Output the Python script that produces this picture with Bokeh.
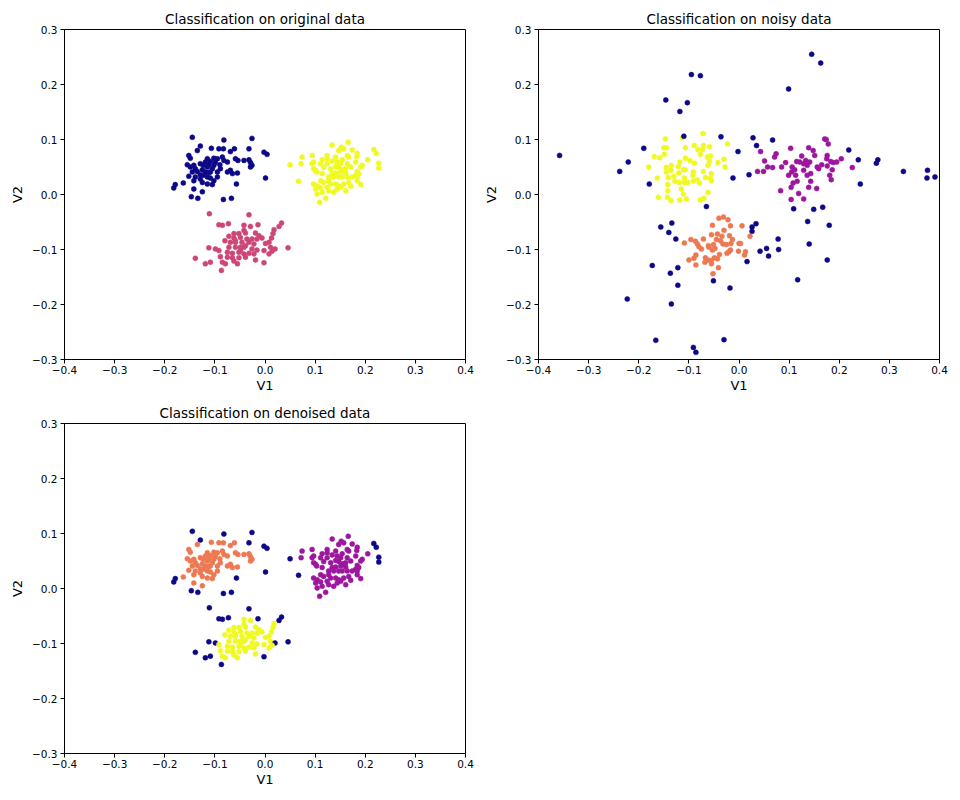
from bokeh.plotting import figure
from bokeh.layouts import column, row
from bokeh.models import FixedTicker, CustomJSTickFormatter, ColumnDataSource
from bokeh.embed import file_html
from bokeh.resources import INLINE

# ---------------- original / denoised data (same points) ----------------
# cluster A (upper left)
a_x = [-0.145,-0.082,-0.026,-0.129,-0.135,-0.107,-0.092,-0.083,-0.069,-0.061,
       -0.032,-0.002,0.004,-0.152,-0.149,-0.115,-0.102,-0.085,-0.082,-0.075,
       -0.059,-0.054,-0.042,-0.032,-0.029,-0.155,-0.142,-0.129,-0.119,-0.109,
       -0.099,-0.139,-0.125,-0.115,-0.105,-0.089,-0.145,-0.135,-0.119,-0.109,
       -0.095,-0.075,-0.069,-0.065,-0.055,-0.026,-0.029,-0.152,-0.139,-0.129,
       -0.115,-0.109,-0.095,-0.142,-0.125,-0.115,-0.105,-0.179,-0.182,-0.163,
       -0.142,-0.125,-0.147,-0.134,-0.083,-0.067,-0.057,0.001,-0.129,-0.122,
       -0.112,-0.102,-0.123,-0.095,-0.090,-0.112,-0.102,-0.149]
a_y = [0.104,0.099,0.102,0.088,0.080,0.084,0.083,0.083,0.078,0.083,
       0.083,0.077,0.073,0.071,0.066,0.065,0.066,0.068,0.062,0.059,
       0.065,0.062,0.062,0.063,0.058,0.054,0.053,0.056,0.059,0.060,
       0.058,0.047,0.045,0.050,0.047,0.047,0.041,0.042,0.041,0.041,
       0.041,0.041,0.044,0.038,0.039,0.053,0.050,0.033,0.032,0.028,
       0.032,0.030,0.032,0.025,0.022,0.019,0.018,0.018,0.012,0.021,
       0.010,0.005,-0.004,-0.007,-0.009,-0.007,0.019,0.030,0.036,0.035,
       0.054,0.053,0.053,0.065,0.054,0.040,0.025,0.050]
a_den = [-1,-1,-1,-1,1,1,1,1,1,1,
         -1,-1,-1,1,1,1,1,1,1,1,
         1,1,1,1,1,1,1,1,1,1,
         1,1,1,1,1,1,1,1,1,1,
         1,1,1,1,1,1,1,1,1,1,
         1,1,1,1,1,1,1,-1,-1,1,
         1,1,-1,-1,-1,-1,-1,-1,1,1,
         1,1,1,1,1,1,1,1]

# cluster B (right)
b_x = [0.134,0.166,0.152,0.147,0.157,0.174,0.217,0.222,0.184,0.183,
       0.074,0.094,0.124,0.141,0.164,0.167,0.050,0.072,0.094,0.097,
       0.114,0.124,0.134,0.144,0.154,0.164,0.181,0.194,0.205,0.227,
       0.227,0.111,0.124,0.117,0.131,0.141,0.147,0.154,0.161,0.191,
       0.101,0.103,0.114,0.134,0.141,0.151,0.157,0.184,0.187,0.181,
       0.127,0.137,0.147,0.154,0.164,0.174,0.184,0.067,0.097,0.104,
       0.111,0.117,0.127,0.131,0.141,0.147,0.157,0.167,0.191,0.184,
       0.101,0.111,0.124,0.144,0.151,0.171,0.114,0.127,0.137,0.161,
       0.104,0.121,0.109,0.097,0.151,0.161,0.171]
b_y = [0.090,0.095,0.086,0.080,0.083,0.081,0.082,0.075,0.075,0.069,
       0.068,0.071,0.071,0.068,0.071,0.068,0.054,0.056,0.056,0.059,
       0.063,0.065,0.061,0.059,0.063,0.056,0.059,0.053,0.063,0.057,
       0.048,0.056,0.056,0.049,0.047,0.051,0.049,0.045,0.047,0.050,
       0.044,0.041,0.038,0.038,0.039,0.041,0.044,0.042,0.038,0.035,
       0.032,0.032,0.032,0.032,0.032,0.032,0.032,0.024,0.019,0.016,
       0.025,0.022,0.025,0.019,0.019,0.016,0.019,0.022,0.018,0.025,
       0.010,0.012,0.013,0.010,0.013,0.015,0.004,0.007,0.004,0.007,
       0.001,-0.007,-0.014,0.047,0.056,0.039,0.050]
b_den = [0,0,0,0,0,0,-1,-1,0,0,
         0,0,0,0,0,0,-1,0,0,0,
         0,0,0,0,0,0,0,0,0,-1,
         -1,0,0,0,0,0,0,0,0,0,
         0,0,0,0,0,0,0,0,0,0,
         0,0,0,0,0,0,0,-1,0,0,
         0,0,0,0,0,0,0,0,0,0,
         0,0,0,0,0,0,0,0,0,0,
         0,0,0,0,0,0,0]

# cluster C (lower)
c_x = [-0.111,-0.032,-0.092,-0.085,-0.073,-0.042,-0.029,-0.014,0.033,0.028,
       0.018,-0.042,-0.052,-0.039,-0.019,-0.012,-0.072,-0.062,-0.049,-0.036,
       -0.016,-0.006,0.016,0.013,-0.080,-0.069,-0.059,-0.046,-0.032,-0.022,
       0.001,0.008,-0.112,-0.099,-0.092,-0.072,-0.059,-0.049,-0.039,-0.026,
       -0.016,-0.002,0.011,0.020,0.046,0.014,-0.075,-0.065,-0.052,-0.042,
       -0.032,-0.022,0.008,-0.089,-0.075,-0.065,-0.052,-0.039,-0.019,-0.139,
       -0.119,-0.109,-0.085,-0.079,-0.062,-0.055,-0.002,-0.087,-0.059,-0.049,
       -0.026,-0.062,-0.042]
c_y = [-0.035,-0.037,-0.055,-0.056,-0.053,-0.056,-0.058,-0.055,-0.052,-0.058,
       -0.064,-0.065,-0.071,-0.070,-0.070,-0.075,-0.076,-0.079,-0.078,-0.081,
       -0.081,-0.079,-0.071,-0.079,-0.084,-0.087,-0.087,-0.087,-0.087,-0.090,
       -0.089,-0.087,-0.097,-0.099,-0.102,-0.096,-0.096,-0.096,-0.093,-0.099,
       -0.101,-0.102,-0.096,-0.099,-0.097,-0.103,-0.105,-0.107,-0.105,-0.108,
       -0.107,-0.108,-0.108,-0.113,-0.114,-0.115,-0.115,-0.114,-0.119,-0.116,
       -0.126,-0.123,-0.123,-0.126,-0.121,-0.126,-0.124,-0.138,-0.084,-0.102,
       -0.081,-0.071,-0.096]
c_den = [-1,-1,-1,-1,-1,2,2,-1,-1,-1,
         2,2,2,2,2,2,2,2,2,2,
         2,2,2,2,2,2,2,2,2,2,
         2,2,-1,-1,2,2,2,2,2,2,
         2,2,2,-1,-1,2,2,2,2,2,
         2,2,2,2,2,2,2,2,2,-1,
         -1,-1,2,2,2,2,-1,-1,2,2,
         2,2,2]

# ---------------- noisy data ----------------
nz_x = [-0.095,-0.077,-0.146,-0.103,-0.118,-0.110,-0.036,-0.002,-0.190,-0.358,-0.221,-0.238,-0.012,
        0.145,0.163,0.099,0.028,0.067,0.035,0.219,0.238,0.277,0.274,0.020,0.328,0.376,0.391,0.375,
        0.242,0.109,0.149,0.167,
        -0.179,-0.065,-0.134,-0.156,-0.140,-0.126,-0.173,-0.122,-0.137,-0.122,-0.051,-0.018,-0.223,-0.135,-0.166,-0.030,-0.091,-0.086,
        0.137,0.180,0.034,0.026,0.026,0.078,0.140,0.055,0.079,0.042,0.059,0.016,0.176,0.117]
nz_y = [0.218,0.216,0.172,0.167,0.151,0.106,0.105,0.078,0.084,0.071,0.059,0.042,0.030,
        0.255,0.239,0.192,0.103,0.099,0.089,0.081,0.063,0.063,0.057,0.036,0.042,0.044,0.032,0.030,
        0.019,-0.026,-0.027,-0.023,
        0.019,-0.022,-0.052,-0.059,-0.069,-0.081,-0.129,-0.133,-0.143,-0.165,-0.157,-0.170,-0.190,-0.199,-0.265,-0.264,-0.278,-0.287,
        -0.049,-0.056,-0.053,-0.059,-0.067,-0.081,-0.090,-0.098,-0.100,-0.103,-0.112,-0.122,-0.119,-0.155]

ty_x = [-0.072,-0.147,-0.113,-0.150,-0.145,-0.107,-0.089,-0.071,-0.059,-0.082,
        -0.073,-0.023,-0.169,-0.158,-0.149,-0.107,-0.098,-0.089,-0.077,-0.063,
        -0.057,-0.059,-0.030,-0.042,-0.180,-0.145,-0.135,-0.121,-0.118,-0.111,
        -0.107,-0.091,-0.071,-0.062,-0.028,-0.145,-0.136,-0.120,-0.163,-0.141,
        -0.130,-0.109,-0.092,-0.067,-0.055,-0.057,
        -0.142,-0.142,-0.143,-0.161,-0.136,-0.119,-0.115,-0.111,-0.105,-0.118,
        -0.109,-0.102,-0.091,-0.079,-0.062,-0.070,-0.077,-0.055,-0.128,-0.083]
ty_y = [0.111,0.101,0.103,0.085,0.085,0.085,0.089,0.089,0.087,0.082,
        0.082,0.092,0.069,0.067,0.073,0.066,0.062,0.057,0.073,0.068,
        0.070,0.061,0.064,0.058,0.050,0.049,0.053,0.051,0.059,0.045,
        0.045,0.041,0.042,0.053,0.050,0.041,0.044,0.039,0.030,0.031,
        0.033,0.030,0.035,0.031,0.038,0.030,
        0.018,0.007,-0.005,-0.005,-0.011,0.022,0.010,0.001,-0.008,-0.010,
        0.022,0.022,0.025,0.021,0.004,-0.007,-0.010,0.025,0.024,0.027]

bo_x = [-0.040,-0.031,-0.022,-0.053,-0.017,-0.043,-0.030,-0.055,-0.034,-0.019,
        -0.013,-0.109,-0.096,-0.087,-0.083,-0.071,-0.080,-0.075,-0.061,-0.051,
        -0.045,-0.037,-0.032,-0.025,-0.016,0.000,-0.048,-0.053,-0.060,-0.017,
        -0.001,-0.086,-0.090,-0.100,-0.067,-0.068,-0.062,-0.055,-0.049,-0.043,
        -0.039,-0.055,-0.086,-0.041,-0.052,-0.024,-0.020,
        0.006,0.022,0.003,0.013,0.011]
bo_y = [-0.043,-0.041,-0.046,-0.056,-0.057,-0.072,-0.065,-0.073,-0.076,-0.075,
        -0.082,-0.088,-0.082,-0.085,-0.090,-0.081,-0.095,-0.099,-0.093,-0.091,
        -0.082,-0.084,-0.090,-0.091,-0.089,-0.089,-0.098,-0.101,-0.096,-0.101,
        -0.103,-0.110,-0.116,-0.119,-0.115,-0.123,-0.119,-0.120,-0.115,-0.117,
        -0.109,-0.126,-0.128,-0.133,-0.144,-0.107,-0.104,
        -0.057,-0.076,-0.089,-0.104,-0.110]

rp_x = [0.043,0.074,0.071,0.051,0.057,0.067,0.049,0.085,0.093,0.103,
        0.139,0.148,0.151,0.171,0.174,0.178,0.125,0.115,0.121,0.133,
        0.141,0.136,0.129,0.106,0.111,0.105,0.099,0.113,0.129,0.136,
        0.143,0.156,0.159,0.165,0.176,0.175,0.183,0.188,0.195,0.204,
        0.176,0.186,0.226,0.181,0.184,0.143,0.116,0.108,0.104,0.139,
        0.155,0.083,0.119,0.129,0.104,0.037]
rp_y = [0.078,0.074,0.068,0.061,0.050,0.049,0.042,0.050,0.058,0.084,
        0.085,0.080,0.071,0.101,0.100,0.092,0.070,0.060,0.059,0.062,
        0.059,0.053,0.056,0.050,0.045,0.041,0.035,0.035,0.044,0.035,
        0.038,0.050,0.047,0.054,0.071,0.065,0.060,0.058,0.059,0.065,
        0.052,0.045,0.049,0.035,0.027,0.024,0.024,0.021,0.013,0.013,
        0.011,0.007,0.002,-0.008,-0.009,0.042]

x_ticks = [-0.4, -0.3, -0.2, -0.1, 0.0, 0.1, 0.2, 0.3, 0.4]
y_ticks = [-0.3, -0.2, -0.1, 0.0, 0.1, 0.2, 0.3]

PLASMA3 = ["#0d0887", "#cc4778", "#f0f921"]
PLASMA4 = {-1: "#0d0887", 0: "#9c179e", 1: "#ed7953", 2: "#f0f921"}

FONT = "DejaVu Sans"


def make_fig(title, xs, ys, colors, bl, br, bt, bb):
    p = figure(frame_width=401, frame_height=330,
               x_range=(-0.4, 0.4), y_range=(-0.3, 0.3),
               output_backend="svg", toolbar_location=None,
               min_border_left=bl, min_border_right=br,
               min_border_top=bt, min_border_bottom=bb,
               background_fill_color="white", border_fill_color="white")
    p.title.text = title
    p.title.align = "center"
    p.title.text_font = FONT
    p.title.text_font_size = "13.5px"
    p.title.text_font_style = "normal"
    p.title.text_color = "black"
    p.title.standoff = 6
    p.grid.visible = False
    p.outline_line_color = "black"
    p.outline_line_width = 1
    p.outline_line_alpha = 1
    fmt = CustomJSTickFormatter(code="return tick.toFixed(1).replace('-', '\u2212');")
    p.xaxis.ticker = FixedTicker(ticks=x_ticks)
    p.yaxis.ticker = FixedTicker(ticks=y_ticks)
    for ax in (p.xaxis[0], p.yaxis[0]):
        ax.formatter = fmt
        ax.major_tick_in = 0
        ax.major_tick_out = 4
        ax.minor_tick_line_color = None
        ax.axis_line_color = "black"
        ax.major_tick_line_color = "black"
        ax.major_label_text_font = FONT
        ax.major_label_text_font_size = "10.5px"
        ax.major_label_text_color = "black"
        ax.axis_label_text_font = FONT
        ax.axis_label_text_font_size = "13px"
        ax.axis_label_text_font_style = "normal"
        ax.axis_label_text_color = "black"
    p.xaxis.major_label_standoff = 2
    p.xaxis.axis_label_standoff = 1
    p.yaxis.major_label_standoff = 3
    p.yaxis.axis_label_standoff = 4
    p.xaxis.axis_label = "V1"
    p.yaxis.axis_label = "V2"
    src = ColumnDataSource(dict(x=xs, y=ys, c=colors))
    p.scatter("x", "y", source=src, size=5, fill_color="c", line_color="c", line_width=0.5)
    return p


orig_x = a_x + b_x + c_x
orig_y = a_y + b_y + c_y
orig_col = [PLASMA3[0]] * len(a_x) + [PLASMA3[2]] * len(b_x) + [PLASMA3[1]] * len(c_x)
den_col = [PLASMA4[v] for v in a_den + b_den + c_den]

noisy_x = ty_x + rp_x + bo_x + nz_x
noisy_y = ty_y + rp_y + bo_y + nz_y
noisy_col = ([PLASMA4[2]] * len(ty_x) + [PLASMA4[0]] * len(rp_x) +
             [PLASMA4[1]] * len(bo_x) + [PLASMA4[-1]] * len(nz_x))

p1 = make_fig("Classification on original data", orig_x, orig_y, orig_col, 64, 15, 29, 40)
p2 = make_fig("Classification on noisy data", noisy_x, noisy_y, noisy_col, 58, 21, 29, 40)
p3 = make_fig("Classification on denoised data", orig_x, orig_y, den_col, 64, 15, 24, 47)

layout = column(row(p1, p2), row(p3))
open("out.html", "w").write(file_html(layout, INLINE))
